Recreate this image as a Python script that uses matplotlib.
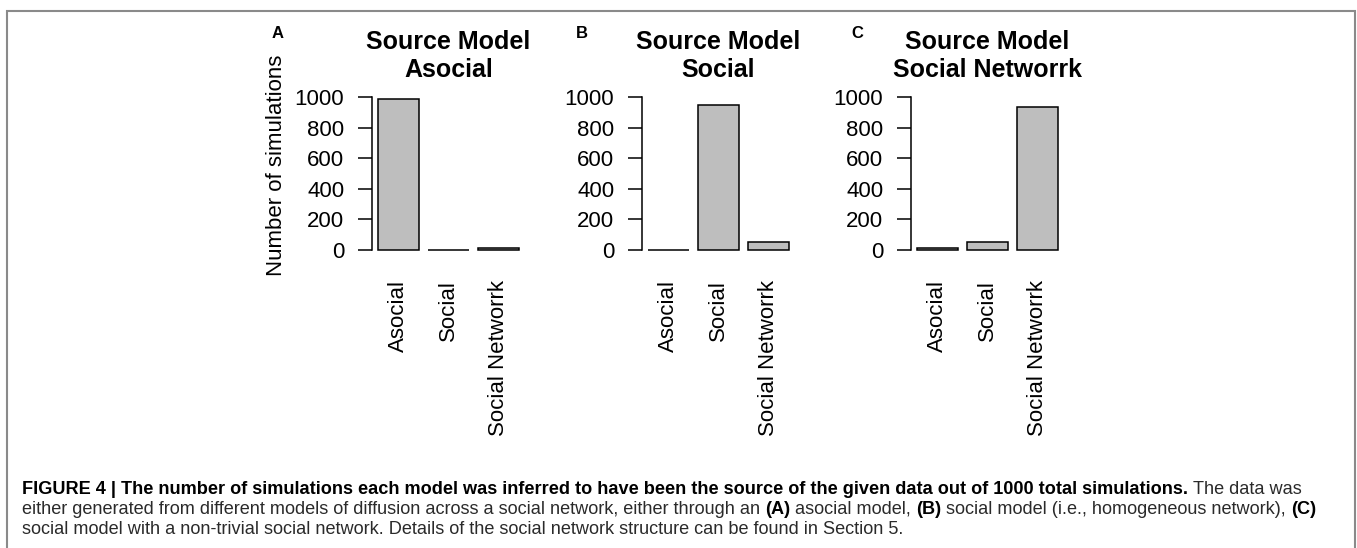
import numpy as np
import matplotlib
matplotlib.use('Agg')
import matplotlib.pyplot as plt
from matplotlib.patches import Rectangle

plt.rcParams['font.family'] = 'Liberation Sans'

# Data
categories = ['Asocial', 'Social', 'Social Networrk']
asocial_counts = [990, 0, 10]
social_counts = [0, 952, 48]
network_counts = [12, 51, 937]
panel_titles = ['Asocial', 'Social', 'Social Networrk']
panel_letters = ['A', 'B', 'C']

W, H = 1357, 548
fig = plt.figure(figsize=(W / 100, H / 100), dpi=100)


def fx(px):
    return px / W


def fy(py):
    return 1 - py / H


# outer frame (open at the bottom, like the cropped journal figure)
fig.add_artist(Rectangle((fx(7), fy(600)), fx(1355) - fx(7), fy(11) - fy(600),
                         transform=fig.transFigure, fill=False,
                         edgecolor='#8a8a8a', linewidth=1.5))

# Bar panels
panel_left = [372, 642, 911]     # px position of each y axis
letter_x = [278, 582, 857]
all_counts = [asocial_counts, social_counts, network_counts]
x = np.arange(len(categories)) * 1.2 + 0.7

for i, counts in enumerate(all_counts):
    ax = fig.add_axes([fx(panel_left[i]), fy(255.6), 153 / W, 164.2 / H])
    ax.bar(x, counts, width=1.0, color='#bebebe', edgecolor='black', linewidth=1.1)
    ax.set_xlim(0.064, 3.736)
    ax.set_ylim(-40, 1040)
    for s in ['top', 'right', 'bottom']:
        ax.spines[s].set_visible(False)
    ax.spines['left'].set_bounds(0, 1000)
    ax.spines['left'].set_linewidth(1.1)
    ax.set_yticks([0, 200, 400, 600, 800, 1000])
    ax.tick_params(axis='y', length=10, width=1.1, pad=10, labelsize=16)
    ax.set_xticks(x, categories, rotation=90)
    ax.tick_params(axis='x', length=0, pad=17.5, labelsize=16)
    ax.set_title('Source Model\n' + panel_titles[i], fontsize=18,
                 fontweight='bold', pad=10.4)
    fig.text(fx(letter_x[i]), fy(34), panel_letters[i], fontsize=12,
             fontweight='bold', ha='center', va='center')

fig.text(fx(276), fy(165), 'Number of simulations', rotation=90,
         ha='center', va='center', fontsize=16)

# Caption with mixed bold / regular runs
renderer = fig.canvas.get_renderer()
cap_size = 13.1
cap_color = '#2a2a2a'


def text_w(s, bold):
    t = fig.text(0, 0, s, fontsize=cap_size, fontweight='bold' if bold else 'normal')
    w = t.get_window_extent(renderer).width
    t.remove()
    return w


space_w = text_w('x x', False) - text_w('xx', False)


def caption_line(y_px, runs):
    xpos = 22
    for k, (txt, bold) in enumerate(runs):
        if k > 0:
            xpos += space_w
        t = fig.text(fx(xpos), fy(y_px), txt, fontsize=cap_size,
                     fontweight='bold' if bold else 'normal',
                     color='black' if bold else cap_color, va='center')
        xpos += t.get_window_extent(renderer).width


caption_line(489, [('FIGURE 4 | The number of simulations each model was inferred to have been '
                    'the source of the given data out of 1000 total simulations.', True),
                   ('The data was', False)])
caption_line(509, [('either generated from different models of diffusion across a social network, '
                    'either through an', False), ('(A)', True), ('asocial model,', False),
                   ('(B)', True), ('social model (i.e., homogeneous network),', False),
                   ('(C)', True)])
caption_line(529, [('social model with a non-trivial social network. Details of the social '
                    'network structure can be found in Section 5.', False)])

fig.savefig('out.png', dpi=100)
